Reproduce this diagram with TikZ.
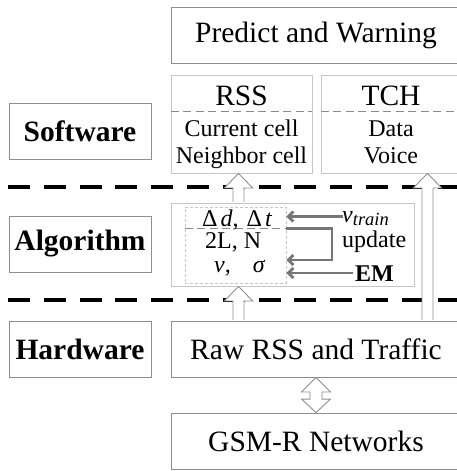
\documentclass[tikz,border=0pt]{standalone}
\usepackage{fontspec}
\setmainfont{Liberation Serif}
\usetikzlibrary{arrows.meta,calc}

\definecolor{boxgray}{HTML}{8E8E8E}
\definecolor{paleline}{HTML}{C6C6C6}
\definecolor{arrowgray}{HTML}{767676}
\definecolor{sepgray}{HTML}{8A8A8A}

\newcommand\fBig{\fontsize{29.5}{33}\selectfont}
\newcommand\fSmall{\fontsize{24}{27}\selectfont}

% hollow block arrow pointing up: #1 x reference, #2 start anchor, #3 tip anchor
\newcommand\blockup[3]{%
  \draw[blk] let \p1=(#2 -| #1), \p2=(#3 -| #1) in
    (\x1-5.5pt,\y1+0.6pt) -- (\x1-5.5pt,\y2-14.5pt) -- (\x1-14.2pt,\y2-14.5pt)
    -- (\x2,\y2) -- (\x1+14.2pt,\y2-14.5pt) -- (\x1+5.5pt,\y2-14.5pt)
    -- (\x1+5.5pt,\y1+0.6pt);
}

\tikzset{
  box/.style={draw=boxgray, line width=0.9pt, inner sep=0pt},
  lbox/.style={draw=paleline, line width=0.9pt, inner sep=0pt},
  txt/.style={inner sep=0pt, anchor=base},
  txtw/.style={inner sep=0pt, anchor=base west},
  layersep/.style={line width=4pt, dash pattern=on 22pt off 13.8pt},
  sepdash/.style={draw=sepgray, line width=1.5pt, dash pattern=on 8pt off 4.5pt},
  innerdash/.style={draw=paleline, line width=0.9pt, dash pattern=on 3pt off 2pt},
  blk/.style={draw=boxgray, line width=0.9pt, fill=white, line join=miter},
  garrow/.style={draw=arrowgray, line width=2.8pt,
    -{Straight Barb[length=5pt,width=10pt]}},
}

\begin{document}
\begin{tikzpicture}[x=1pt,y=-1pt]
\useasboundingbox (0,0) rectangle (457,471);

% layer separators
\draw[layersep] (8,187) -- (457,187);
\draw[layersep] (8,300) -- (457,300);

% layer labels
\node[box, minimum width=142pt, minimum height=56pt, font=\fBig\bfseries] (sw) at (80,131) {Software};
\node[box, minimum width=142pt, minimum height=56pt, font=\fBig\bfseries] (al) at (80,244) {Algorithm};
\node[box, minimum width=142pt, minimum height=56pt, font=\fBig\bfseries] (hw) at (80,349) {Hardware};

% software layer
\node[box, minimum width=290pt, minimum height=56pt, font=\fBig] (pw) at (316,35) {Predict and Warning};
\node[lbox, minimum width=141pt, minimum height=98pt] (rss) at (241.5,124) {};
\node[lbox, minimum width=140pt, minimum height=98pt] (tch) at (391,124) {};
\draw[sepdash] ($(rss.north west)+(0,37)$) -- ($(rss.north east)+(0,37)$);
\draw[sepdash] ($(tch.north west)+(0,37)$) -- ($(tch.north east)+(0,37)$);
\node[txt, font=\fBig] (rssT) at (241.5,105) {RSS};
\node[txt, font=\fSmall] (rssA) at (241.5,136) {Current cell};
\node[txt, font=\fSmall] (rssB) at (241.5,163) {Neighbor cell};
\node[txt, font=\fBig] (tchT) at (391,105) {TCH};
\node[txt, font=\fSmall] (tchA) at (391,136) {Data};
\node[txt, font=\fSmall] (tchB) at (391,163) {Voice};

% algorithm layer
\node[lbox, minimum width=243pt, minimum height=83pt] (alg) at (292.5,244.5) {};
\node[innerdash, minimum width=101pt, minimum height=76pt, inner sep=0pt] (inner) at (235.5,245) {};
\draw[sepdash] ($(inner.north west)+(0,22)$) coordinate (sepL) -- ($(inner.north east)+(0,22)$) coordinate (sepR);
\node[txtw, font=\fSmall] (dd) at (202,226) {Δ\hspace{3pt}\textit{d},\hspace{8pt}Δ\hspace{3pt}\textit{t}};
\node[txtw, font=\fSmall] (ln) at (205,248) {2L, N};
\node[txtw, font=\fSmall] (ns) at (214,272) {\itshape ν,\hspace{22pt}σ};
\node[txtw, font=\fSmall] (vt) at (342,222) {\itshape v\raisebox{-3.5pt}{\fontsize{18.5}{20}\selectfont train}};
\node[txtw, font=\fSmall] (up) at (342,247) {update};
\node[txtw, font=\fSmall\bfseries] (em) at (355,281) {EM};

\coordinate (vtA) at (343,216.5);
\coordinate (emA) at (353,273);
\coordinate (brk) at (332,260);
\draw[garrow] (vtA) -- (vtA -| inner.east);
\draw[garrow] (emA) -- (emA -| inner.east);
\draw[garrow] (sepR) -| (brk) -- (brk -| inner.east);

% hardware layer
\node[box, minimum width=290pt, minimum height=56pt, font=\fBig] (raw) at (316,349) {Raw RSS and Traffic};
\node[box, minimum width=290pt, minimum height=56pt, font=\fBig] (gsm) at (316,441) {GSM-R Networks};

% data flow
\coordinate (ax) at (238.5,0);
\coordinate (rx) at (427.5,0);
\blockup{ax}{alg.north}{rss.south}
\blockup{ax}{raw.north}{alg.south}
\blockup{rx}{raw.north}{tch.south}
\draw[blk] let \p1=(raw.south), \p2=(gsm.north) in
  (\x1,\y1) -- (\x1+14.5pt,\y1-14.5pt) -- (\x1+6pt,\y1-14.5pt) -- (\x1+6pt,\y2+13.5pt)
  -- (\x1+14.5pt,\y2+13.5pt) -- (\x1,\y2) -- (\x1-14.5pt,\y2+13.5pt) -- (\x1-6pt,\y2+13.5pt)
  -- (\x1-6pt,\y1-14.5pt) -- (\x1-14.5pt,\y1-14.5pt) -- cycle;
\end{tikzpicture}
\end{document}
